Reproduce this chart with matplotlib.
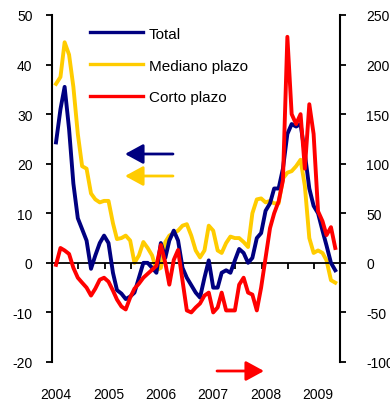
import pandas as pd
import matplotlib
matplotlib.use("Agg")
import matplotlib.pyplot as plt
import matplotlib.dates as mdates
from matplotlib.transforms import blended_transform_factory

plt.rcParams['font.family'] = ['Liberation Sans', 'DejaVu Sans']
plt.rcParams['axes.unicode_minus'] = False

# monthly data, Jan 2004 - May 2009
dates = pd.date_range('2004-01-01', periods=65, freq='MS')

# Total (left axis)
total = [24.3, 31, 35.5, 27, 16, 9, 6.8, 4.5, -1.2, 1.5, 4, 5.5,
         4, -2, -5.5, -6.2, -7.3, -6.8, -6, -3, 0, 0, -1, -2,
         4, 1, 4.5, 6.5, 4.5, -1, -3, -4.5, -6, -7, -3, 0.5,
         -5, -5, -2, -1.5, -2, 0.5, 2.8, 2, 0, 1, 5, 6,
         10.5, 12, 15, 15, 19, 26, 28, 27.5, 28, 22, 15, 11.5,
         10, 6.5, 3.5, 0, -1.5]

# Mediano plazo (left axis)
mediano = [36.1, 37.5, 44.5, 42, 35.5, 26, 19.5, 19, 14, 12.8, 12.2, 12.5,
           12.5, 8, 4.8, 5, 5.5, 4.5, 0, 1.5, 4.2, 3, 1.5, -1.5,
           -1, 4.2, 5.5, 6, 6.5, 7.5, 7.8, 5.5, 2.5, 1.1, 2.5, 7.5,
           6.5, 2.5, 2, 4, 5.3, 5, 5, 4.2, 3.2, 10, 12.8, 13,
           12.2, 12.5, 12, 12, 17, 18.2, 18.5, 19.5, 20.8, 15.5, 5, 2,
           2.5, 2, 0.5, -3.5, -4]

# Corto plazo (right axis)
corto = [-2, 15, 12.5, 9, -5, -15, -20, -25, -33, -26, -17, -15,
         -19, -28, -37, -44, -47, -35, -26, -21, -15, -11, -7, -3,
         18, 0, -22, 3, 13, -18, -48, -50, -45, -41, -33, -30,
         -50, -45, -30, -48, -48, -48, -22, -15, -30, -32, -48, -25,
         5, 35, 50, 62, 83, 228, 150, 140, 150, 95, 160, 130,
         52, 42, 28, 36, 15]

years = [2004, 2005, 2006, 2007, 2008, 2009]
series_names = ['Total', 'Mediano plazo', 'Corto plazo']

blue = '#000080'
yellow = '#FFCC00'
red = '#FF0000'
lw = 2.8

fig = plt.figure(figsize=(3.90, 4.02), dpi=100)
ax = fig.add_axes([52/390, 1-363/402, 288/390, 347/402])
ax2 = ax.twinx()

ax.plot(dates, mediano, color=yellow, lw=lw, solid_joinstyle='round', zorder=2)
ax.plot(dates, total, color=blue, lw=lw, solid_joinstyle='round', zorder=3)
ax2.plot(dates, corto, color=red, lw=lw, solid_joinstyle='round')

ax.set_ylim(-20, 50)
ax2.set_ylim(-100, 250)
ax.set_yticks(range(-20, 51, 10))
ax2.set_yticks(range(-100, 251, 50))
ax.set_xlim(pd.Timestamp('2003-12-04'), pd.Timestamp('2009-06-03'))

for a in (ax, ax2):
    a.spines['top'].set_visible(False)
    a.spines['left'].set_linewidth(1.5)
    a.spines['right'].set_linewidth(1.5)
    a.patch.set_visible(False)
ax2.spines['bottom'].set_visible(False)
ax.spines['right'].set_visible(False)
ax2.spines['left'].set_visible(False)
ax.spines['bottom'].set_position(('data', 0))
ax.spines['bottom'].set_linewidth(1.3)

ax.tick_params(axis='y', direction='out', length=4, width=1.3, labelsize=10, pad=10)
ax2.tick_params(axis='y', direction='out', length=4, width=1.3, labelsize=10, pad=15)

half_years = []
for y in range(2004, 2009):
    half_years += [pd.Timestamp(f'{y}-06-05'), pd.Timestamp(f'{y}-12-05')]
ax.set_xticks(half_years)
ax.tick_params(axis='x', direction='out', length=4, width=1.3, labelbottom=False)

trans = blended_transform_factory(ax.transData, fig.transFigure)
for y in years:
    ax.text(mdates.date2num(pd.Timestamp(f'{y}-01-01')), 7/402, str(y),
            transform=trans, ha='center', va='center', fontsize=10)

# legend
handles = [plt.Line2D([], [], color=c, lw=2.4) for c in (blue, yellow, red)]
ax.legend(handles, series_names, loc='upper left', bbox_to_anchor=(0.132, 0.966),
          frameon=False, fontsize=11, handlelength=3.45, handletextpad=0.4,
          labelspacing=1.16, borderpad=0, borderaxespad=0)

# axis arrows
arrow = dict(arrowstyle='-|>,head_length=1.1,head_width=0.6', lw=2, shrinkA=0, shrinkB=0)
ax.annotate('', xy=(125/390, 1-155/402), xytext=(173/390, 1-155/402),
            xycoords='figure fraction', arrowprops=dict(arrow, color=blue))
ax.annotate('', xy=(125/390, 1-177/402), xytext=(173/390, 1-177/402),
            xycoords='figure fraction', arrowprops=dict(arrow, color=yellow))
ax.annotate('', xy=(264/390, 1-372/402), xytext=(217/390, 1-372/402),
            xycoords='figure fraction', arrowprops=dict(arrow, color=red),
            annotation_clip=False)

fig.savefig('out.png', dpi=100)
